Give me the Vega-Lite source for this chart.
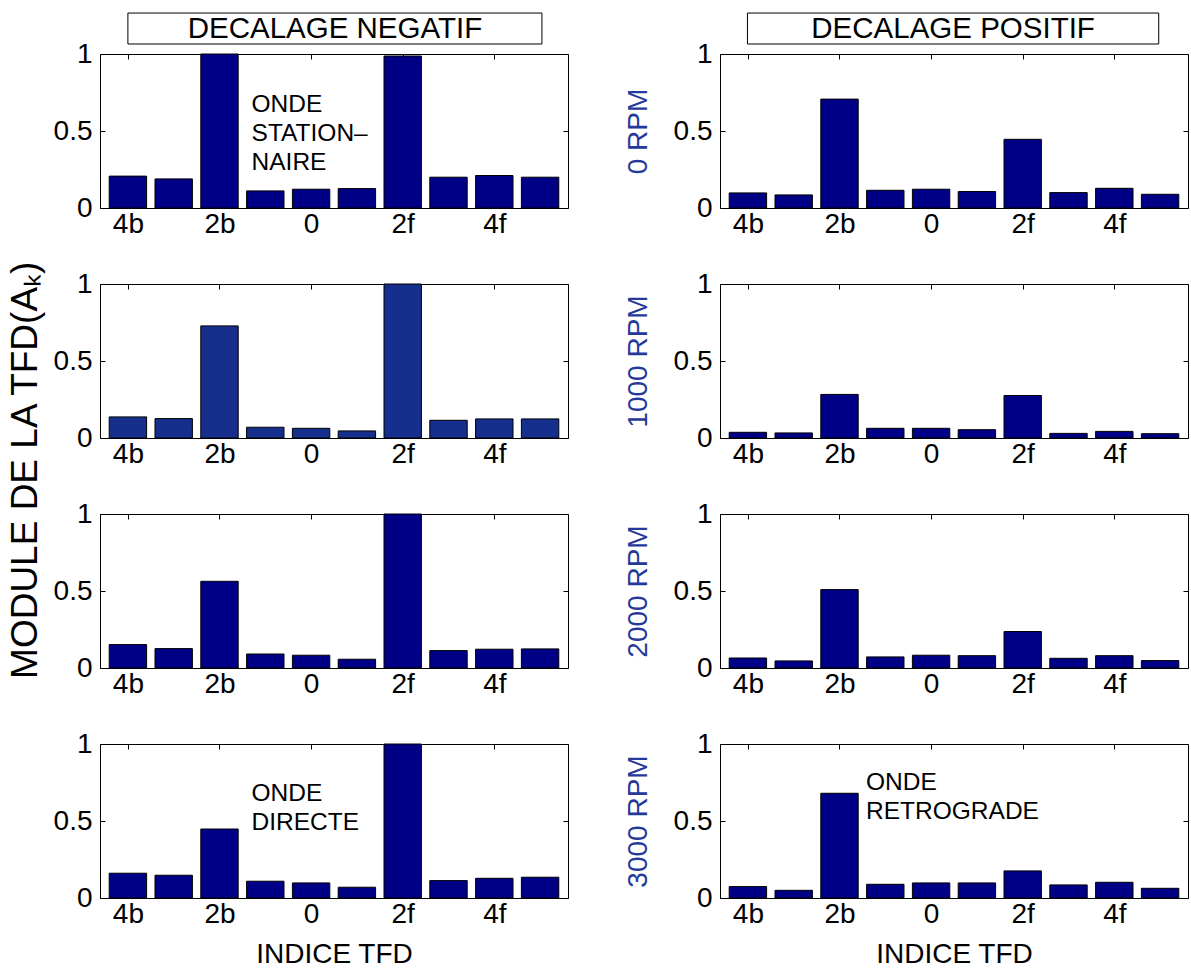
{
  "$schema": "https://vega.github.io/schema/vega-lite/v6.json",
  "background": "white",
  "padding": {"left": 6, "top": 12, "right": 2, "bottom": 2},
  "title": {"text": "MODULE DE LA TFD(Aₖ)", "orient": "left", "anchor": "middle", "fontSize": 37, "fontWeight": "normal", "font": "Liberation Sans", "color": "black", "offset": 8, "dx": 20},
  "datasets": {
    "n1": [{"k":-4,"v":0.207},{"k":-3,"v":0.189},{"k":-2,"v":1.0},{"k":-1,"v":0.111},{"k":0,"v":0.122},{"k":1,"v":0.126},{"k":2,"v":0.987},{"k":3,"v":0.2},{"k":4,"v":0.211},{"k":5,"v":0.2}],
    "n2": [{"k":-4,"v":0.137},{"k":-3,"v":0.126},{"k":-2,"v":0.728},{"k":-1,"v":0.07},{"k":0,"v":0.063},{"k":1,"v":0.046},{"k":2,"v":1.0},{"k":3,"v":0.115},{"k":4,"v":0.124},{"k":5,"v":0.124}],
    "n3": [{"k":-4,"v":0.152},{"k":-3,"v":0.126},{"k":-2,"v":0.563},{"k":-1,"v":0.091},{"k":0,"v":0.083},{"k":1,"v":0.057},{"k":2,"v":1.0},{"k":3,"v":0.113},{"k":4,"v":0.122},{"k":5,"v":0.124}],
    "n4": [{"k":-4,"v":0.161},{"k":-3,"v":0.148},{"k":-2,"v":0.448},{"k":-1,"v":0.109},{"k":0,"v":0.098},{"k":1,"v":0.07},{"k":2,"v":1.0},{"k":3,"v":0.113},{"k":4,"v":0.128},{"k":5,"v":0.135}],
    "p1": [{"k":-4,"v":0.098},{"k":-3,"v":0.085},{"k":-2,"v":0.707},{"k":-1,"v":0.115},{"k":0,"v":0.122},{"k":1,"v":0.107},{"k":2,"v":0.446},{"k":3,"v":0.1},{"k":4,"v":0.128},{"k":5,"v":0.089}],
    "p2": [{"k":-4,"v":0.037},{"k":-3,"v":0.033},{"k":-2,"v":0.283},{"k":-1,"v":0.063},{"k":0,"v":0.063},{"k":1,"v":0.054},{"k":2,"v":0.276},{"k":3,"v":0.03},{"k":4,"v":0.043},{"k":5,"v":0.028}],
    "p3": [{"k":-4,"v":0.065},{"k":-3,"v":0.046},{"k":-2,"v":0.509},{"k":-1,"v":0.072},{"k":0,"v":0.083},{"k":1,"v":0.08},{"k":2,"v":0.237},{"k":3,"v":0.063},{"k":4,"v":0.08},{"k":5,"v":0.048}],
    "p4": [{"k":-4,"v":0.074},{"k":-3,"v":0.05},{"k":-2,"v":0.68},{"k":-1,"v":0.089},{"k":0,"v":0.098},{"k":1,"v":0.098},{"k":2,"v":0.176},{"k":3,"v":0.085},{"k":4,"v":0.102},{"k":5,"v":0.063}],
    "one": [{}]
  },
  "columns": 2,
  "spacing": {"row": 30, "column": 54},
  "concat": [
    {
      "width": 468, "height": 154,
      "data": {"name": "n1"},
      "layer": [
        {"mark": {"type": "bar", "width": 37.4, "fill": "#000086", "stroke": "black", "strokeWidth": 1},
         "encoding": {
           "x": {"field": "k", "type": "quantitative", "scale": {"domain": [-4.5, 5.5], "nice": false, "zero": false}, "axis": {"orient": "bottom", "values": [-4,-2,0,2,4], "labelExpr": "datum.value == 0 ? '0' : (datum.value < 0 ? (-datum.value) + 'b' : datum.value + 'f')", "title": null}},
           "y": {"field": "v", "type": "quantitative", "scale": {"domain": [0, 1], "nice": false}, "axis": {"orient": "left", "values": [0, 0.5, 1], "format": "~g", "title": null}}}},
        {"mark": {"type": "point", "opacity": 0},
         "encoding": {
           "x": {"field": "k", "type": "quantitative", "scale": {"domain": [-4.5, 5.5], "nice": false, "zero": false}, "axis": {"orient": "top", "values": [-4,-2,0,2,4], "labels": false, "title": null}},
           "y": {"field": "v", "type": "quantitative", "scale": {"domain": [0, 1], "nice": false}, "axis": {"orient": "right", "values": [0, 0.5, 1], "labels": false, "title": null}}}},
        {"data": {"name": "one"},
         "mark": {"type": "rect", "fill": "white", "stroke": "black", "strokeWidth": 1},
         "encoding": {"x": {"datum": -4, "axis": null}, "x2": {"datum": 5.04}, "y": {"datum": 1.065, "axis": null}, "y2": {"datum": 1.266}}},
        {"data": {"name": "one"},
         "mark": {"type": "text", "align": "center", "baseline": "middle", "fontSize": 29.5, "fill": "black"},
         "encoding": {"x": {"datum": 0.52, "axis": null}, "y": {"datum": 1.163, "axis": null}, "text": {"value": "DECALAGE NEGATIF"}}},
        {"data": {"name": "one"},
         "mark": {"type": "text", "align": "left", "baseline": "top", "fontSize": 24.5, "lineHeight": 29, "fill": "black"},
         "encoding": {"x": {"datum": -1.3, "axis": null}, "y": {"datum": 0.75, "axis": null}, "text": {"value": ["ONDE", "STATION–", "NAIRE"]}}}
      ],
      "resolve": {"axis": {"x": "independent", "y": "independent"}}
    },
    {
      "width": 468, "height": 154,
      "data": {"name": "p1"},
      "layer": [
        {"mark": {"type": "bar", "width": 37.4, "fill": "#000086", "stroke": "black", "strokeWidth": 1},
         "encoding": {
           "x": {"field": "k", "type": "quantitative", "scale": {"domain": [-4.5, 5.5], "nice": false, "zero": false}, "axis": {"orient": "bottom", "values": [-4,-2,0,2,4], "labelExpr": "datum.value == 0 ? '0' : (datum.value < 0 ? (-datum.value) + 'b' : datum.value + 'f')", "title": null}},
           "y": {"field": "v", "type": "quantitative", "scale": {"domain": [0, 1], "nice": false}, "axis": {"orient": "left", "values": [0, 0.5, 1], "format": "~g", "title": "0 RPM", "titleColor": "#24399a"}}}},
        {"mark": {"type": "point", "opacity": 0},
         "encoding": {
           "x": {"field": "k", "type": "quantitative", "scale": {"domain": [-4.5, 5.5], "nice": false, "zero": false}, "axis": {"orient": "top", "values": [-4,-2,0,2,4], "labels": false, "title": null}},
           "y": {"field": "v", "type": "quantitative", "scale": {"domain": [0, 1], "nice": false}, "axis": {"orient": "right", "values": [0, 0.5, 1], "labels": false, "title": null}}}},
        {"data": {"name": "one"},
         "mark": {"type": "rect", "fill": "white", "stroke": "black", "strokeWidth": 1},
         "encoding": {"x": {"datum": -4.01, "axis": null}, "x2": {"datum": 4.97}, "y": {"datum": 1.065, "axis": null}, "y2": {"datum": 1.266}}},
        {"data": {"name": "one"},
         "mark": {"type": "text", "align": "center", "baseline": "middle", "fontSize": 29.5, "fill": "black"},
         "encoding": {"x": {"datum": 0.48, "axis": null}, "y": {"datum": 1.163, "axis": null}, "text": {"value": "DECALAGE POSITIF"}}}
      ],
      "resolve": {"axis": {"x": "independent", "y": "independent"}}
    },
    {
      "width": 468, "height": 154,
      "data": {"name": "n2"},
      "layer": [
        {"mark": {"type": "bar", "width": 37.4, "fill": "#162e8c", "stroke": "black", "strokeWidth": 1},
         "encoding": {
           "x": {"field": "k", "type": "quantitative", "scale": {"domain": [-4.5, 5.5], "nice": false, "zero": false}, "axis": {"orient": "bottom", "values": [-4,-2,0,2,4], "labelExpr": "datum.value == 0 ? '0' : (datum.value < 0 ? (-datum.value) + 'b' : datum.value + 'f')", "title": null}},
           "y": {"field": "v", "type": "quantitative", "scale": {"domain": [0, 1], "nice": false}, "axis": {"orient": "left", "values": [0, 0.5, 1], "format": "~g", "title": null}}}},
        {"mark": {"type": "point", "opacity": 0},
         "encoding": {
           "x": {"field": "k", "type": "quantitative", "scale": {"domain": [-4.5, 5.5], "nice": false, "zero": false}, "axis": {"orient": "top", "values": [-4,-2,0,2,4], "labels": false, "title": null}},
           "y": {"field": "v", "type": "quantitative", "scale": {"domain": [0, 1], "nice": false}, "axis": {"orient": "right", "values": [0, 0.5, 1], "labels": false, "title": null}}}}
      ],
      "resolve": {"axis": {"x": "independent", "y": "independent"}}
    },
    {
      "width": 468, "height": 154,
      "data": {"name": "p2"},
      "layer": [
        {"mark": {"type": "bar", "width": 37.4, "fill": "#000086", "stroke": "black", "strokeWidth": 1},
         "encoding": {
           "x": {"field": "k", "type": "quantitative", "scale": {"domain": [-4.5, 5.5], "nice": false, "zero": false}, "axis": {"orient": "bottom", "values": [-4,-2,0,2,4], "labelExpr": "datum.value == 0 ? '0' : (datum.value < 0 ? (-datum.value) + 'b' : datum.value + 'f')", "title": null}},
           "y": {"field": "v", "type": "quantitative", "scale": {"domain": [0, 1], "nice": false}, "axis": {"orient": "left", "values": [0, 0.5, 1], "format": "~g", "title": "1000 RPM", "titleColor": "#24399a"}}}},
        {"mark": {"type": "point", "opacity": 0},
         "encoding": {
           "x": {"field": "k", "type": "quantitative", "scale": {"domain": [-4.5, 5.5], "nice": false, "zero": false}, "axis": {"orient": "top", "values": [-4,-2,0,2,4], "labels": false, "title": null}},
           "y": {"field": "v", "type": "quantitative", "scale": {"domain": [0, 1], "nice": false}, "axis": {"orient": "right", "values": [0, 0.5, 1], "labels": false, "title": null}}}}
      ],
      "resolve": {"axis": {"x": "independent", "y": "independent"}}
    },
    {
      "width": 468, "height": 154,
      "data": {"name": "n3"},
      "layer": [
        {"mark": {"type": "bar", "width": 37.4, "fill": "#000086", "stroke": "black", "strokeWidth": 1},
         "encoding": {
           "x": {"field": "k", "type": "quantitative", "scale": {"domain": [-4.5, 5.5], "nice": false, "zero": false}, "axis": {"orient": "bottom", "values": [-4,-2,0,2,4], "labelExpr": "datum.value == 0 ? '0' : (datum.value < 0 ? (-datum.value) + 'b' : datum.value + 'f')", "title": null}},
           "y": {"field": "v", "type": "quantitative", "scale": {"domain": [0, 1], "nice": false}, "axis": {"orient": "left", "values": [0, 0.5, 1], "format": "~g", "title": null}}}},
        {"mark": {"type": "point", "opacity": 0},
         "encoding": {
           "x": {"field": "k", "type": "quantitative", "scale": {"domain": [-4.5, 5.5], "nice": false, "zero": false}, "axis": {"orient": "top", "values": [-4,-2,0,2,4], "labels": false, "title": null}},
           "y": {"field": "v", "type": "quantitative", "scale": {"domain": [0, 1], "nice": false}, "axis": {"orient": "right", "values": [0, 0.5, 1], "labels": false, "title": null}}}}
      ],
      "resolve": {"axis": {"x": "independent", "y": "independent"}}
    },
    {
      "width": 468, "height": 154,
      "data": {"name": "p3"},
      "layer": [
        {"mark": {"type": "bar", "width": 37.4, "fill": "#000086", "stroke": "black", "strokeWidth": 1},
         "encoding": {
           "x": {"field": "k", "type": "quantitative", "scale": {"domain": [-4.5, 5.5], "nice": false, "zero": false}, "axis": {"orient": "bottom", "values": [-4,-2,0,2,4], "labelExpr": "datum.value == 0 ? '0' : (datum.value < 0 ? (-datum.value) + 'b' : datum.value + 'f')", "title": null}},
           "y": {"field": "v", "type": "quantitative", "scale": {"domain": [0, 1], "nice": false}, "axis": {"orient": "left", "values": [0, 0.5, 1], "format": "~g", "title": "2000 RPM", "titleColor": "#24399a"}}}},
        {"mark": {"type": "point", "opacity": 0},
         "encoding": {
           "x": {"field": "k", "type": "quantitative", "scale": {"domain": [-4.5, 5.5], "nice": false, "zero": false}, "axis": {"orient": "top", "values": [-4,-2,0,2,4], "labels": false, "title": null}},
           "y": {"field": "v", "type": "quantitative", "scale": {"domain": [0, 1], "nice": false}, "axis": {"orient": "right", "values": [0, 0.5, 1], "labels": false, "title": null}}}}
      ],
      "resolve": {"axis": {"x": "independent", "y": "independent"}}
    },
    {
      "width": 468, "height": 154,
      "data": {"name": "n4"},
      "layer": [
        {"mark": {"type": "bar", "width": 37.4, "fill": "#000086", "stroke": "black", "strokeWidth": 1},
         "encoding": {
           "x": {"field": "k", "type": "quantitative", "scale": {"domain": [-4.5, 5.5], "nice": false, "zero": false}, "axis": {"orient": "bottom", "values": [-4,-2,0,2,4], "labelExpr": "datum.value == 0 ? '0' : (datum.value < 0 ? (-datum.value) + 'b' : datum.value + 'f')", "title": "INDICE TFD"}},
           "y": {"field": "v", "type": "quantitative", "scale": {"domain": [0, 1], "nice": false}, "axis": {"orient": "left", "values": [0, 0.5, 1], "format": "~g", "title": null}}}},
        {"mark": {"type": "point", "opacity": 0},
         "encoding": {
           "x": {"field": "k", "type": "quantitative", "scale": {"domain": [-4.5, 5.5], "nice": false, "zero": false}, "axis": {"orient": "top", "values": [-4,-2,0,2,4], "labels": false, "title": null}},
           "y": {"field": "v", "type": "quantitative", "scale": {"domain": [0, 1], "nice": false}, "axis": {"orient": "right", "values": [0, 0.5, 1], "labels": false, "title": null}}}},
        {"data": {"name": "one"},
         "mark": {"type": "text", "align": "left", "baseline": "top", "fontSize": 24.5, "lineHeight": 29, "fill": "black"},
         "encoding": {"x": {"datum": -1.3, "axis": null}, "y": {"datum": 0.755, "axis": null}, "text": {"value": ["ONDE", "DIRECTE"]}}}
      ],
      "resolve": {"axis": {"x": "independent", "y": "independent"}}
    },
    {
      "width": 468, "height": 154,
      "data": {"name": "p4"},
      "layer": [
        {"mark": {"type": "bar", "width": 37.4, "fill": "#000086", "stroke": "black", "strokeWidth": 1},
         "encoding": {
           "x": {"field": "k", "type": "quantitative", "scale": {"domain": [-4.5, 5.5], "nice": false, "zero": false}, "axis": {"orient": "bottom", "values": [-4,-2,0,2,4], "labelExpr": "datum.value == 0 ? '0' : (datum.value < 0 ? (-datum.value) + 'b' : datum.value + 'f')", "title": "INDICE TFD"}},
           "y": {"field": "v", "type": "quantitative", "scale": {"domain": [0, 1], "nice": false}, "axis": {"orient": "left", "values": [0, 0.5, 1], "format": "~g", "title": "3000 RPM", "titleColor": "#24399a"}}}},
        {"mark": {"type": "point", "opacity": 0},
         "encoding": {
           "x": {"field": "k", "type": "quantitative", "scale": {"domain": [-4.5, 5.5], "nice": false, "zero": false}, "axis": {"orient": "top", "values": [-4,-2,0,2,4], "labels": false, "title": null}},
           "y": {"field": "v", "type": "quantitative", "scale": {"domain": [0, 1], "nice": false}, "axis": {"orient": "right", "values": [0, 0.5, 1], "labels": false, "title": null}}}},
        {"data": {"name": "one"},
         "mark": {"type": "text", "align": "left", "baseline": "top", "fontSize": 24.5, "lineHeight": 29, "fill": "black"},
         "encoding": {"x": {"datum": -1.42, "axis": null}, "y": {"datum": 0.825, "axis": null}, "text": {"value": ["ONDE", "RETROGRADE"]}}}
      ],
      "resolve": {"axis": {"x": "independent", "y": "independent"}}
    }
  ],
  "config": {
    "font": "Liberation Sans",
    "view": {"stroke": "black", "strokeWidth": 1},
    "axis": {"domain": false, "grid": false, "ticks": true, "tickColor": "black", "tickSize": -5, "labelFontSize": 28, "labelColor": "black", "labelFont": "Liberation Sans", "titleFont": "Liberation Sans", "titleFontSize": 28, "titleFontWeight": "normal", "titleColor": "black"},
    "axisX": {"labelPadding": 7, "titlePadding": 12},
    "axisY": {"labelPadding": 13, "titlePadding": 21}
  }
}
